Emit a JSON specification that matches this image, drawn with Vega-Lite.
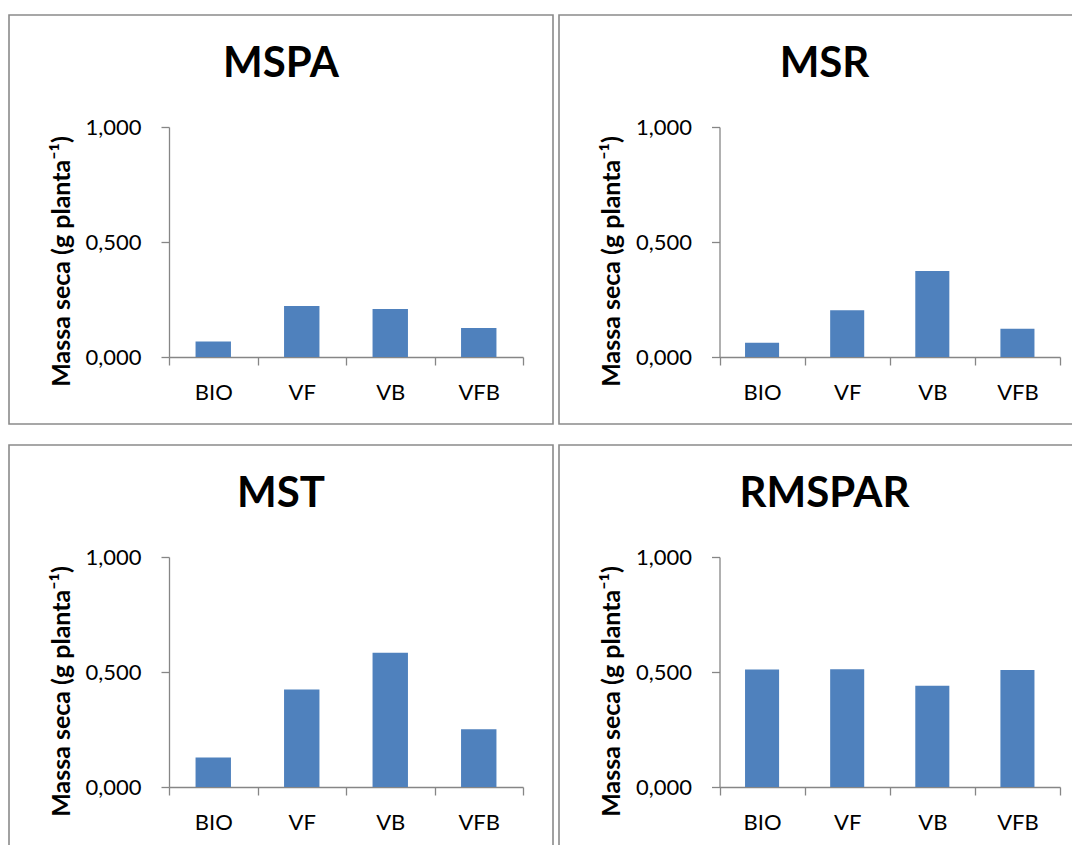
{
  "$schema": "https://vega.github.io/schema/vega-lite/v6.json",
  "padding": {"left": 8, "top": 14, "right": 0, "bottom": 0},
  "background": "#ffffff",
  "data": {
    "values": [
      {"painel": "MSPA", "trat": "BIO", "valor": 0.067},
      {"painel": "MSPA", "trat": "VF", "valor": 0.222},
      {"painel": "MSPA", "trat": "VB", "valor": 0.209},
      {"painel": "MSPA", "trat": "VFB", "valor": 0.126},
      {"painel": "MSR", "trat": "BIO", "valor": 0.062},
      {"painel": "MSR", "trat": "VF", "valor": 0.203},
      {"painel": "MSR", "trat": "VB", "valor": 0.374},
      {"painel": "MSR", "trat": "VFB", "valor": 0.123},
      {"painel": "MST", "trat": "BIO", "valor": 0.128},
      {"painel": "MST", "trat": "VF", "valor": 0.424},
      {"painel": "MST", "trat": "VB", "valor": 0.584},
      {"painel": "MST", "trat": "VFB", "valor": 0.251},
      {"painel": "RMSPAR", "trat": "BIO", "valor": 0.511},
      {"painel": "RMSPAR", "trat": "VF", "valor": 0.512},
      {"painel": "RMSPAR", "trat": "VB", "valor": 0.440},
      {"painel": "RMSPAR", "trat": "VFB", "valor": 0.509}
    ]
  },
  "config": {
    "font": "Lato",
    "view": {"stroke": "#8a8a8a", "strokeWidth": 1.6},
    "axis": {
      "domainColor": "#868686",
      "tickColor": "#868686",
      "domainWidth": 1.3,
      "tickWidth": 1.3,
      "labelColor": "#000000",
      "labelFont": "Lato",
      "labelFontSize": 22,
      "titleColor": "#000000",
      "titleFont": "Lato",
      "titleFontWeight": "bold",
      "titleFontSize": 25,
      "grid": false
    },
    "title": {"font": "Lato", "fontSize": 42, "fontWeight": "bold", "color": "#000000"}
  },
  "spacing": 19,
  "vconcat": [
    {
      "spacing": 4,
      "hconcat": [
        {
          "width": 544, "height": 409,
          "transform": [{"filter": "datum.painel === 'MSPA'"}],
          "title": {"text": "MSPA", "anchor": "middle", "frame": "group", "offset": -104, "baseline": "alphabetic"},
          "mark": {"type": "bar", "width": {"band": 0.4}, "color": "#4F81BD"},
          "encoding": {
            "x": {"field": "trat", "type": "nominal", "sort": ["BIO", "VF", "VB", "VFB"],
              "scale": {"range": [160, 514], "paddingInner": 0, "paddingOuter": 0},
              "axis": {"title": null, "offset": -67, "tickBand": "extent", "tickSize": 8, "labelPadding": 34, "labelBaseline": "alphabetic", "labelAngle": 0}},
            "y": {"field": "valor", "type": "quantitative",
              "scale": {"domain": [0, 1], "range": [342, 112], "nice": false},
              "axis": {"title": "Massa seca (g planta⁻¹)", "offset": -160, "values": [0, 0.5, 1], "tickSize": 8, "labelPadding": 20,
                "labelExpr": "replace(format(datum.value, '.3f'), '.', ',')",
                "titleX": -100, "titleY": 246, "titleAngle": 270, "titleBaseline": "alphabetic", "titleAlign": "center"}}
          }
        },
        {
          "width": 531, "height": 409,
          "transform": [{"filter": "datum.painel === 'MSR'"}],
          "title": {"text": "MSR", "anchor": "middle", "frame": "group", "offset": -104, "baseline": "alphabetic"},
          "mark": {"type": "bar", "width": {"band": 0.4}, "color": "#4F81BD"},
          "encoding": {
            "x": {"field": "trat", "type": "nominal", "sort": ["BIO", "VF", "VB", "VFB"],
              "scale": {"range": [160.5, 501], "paddingInner": 0, "paddingOuter": 0},
              "axis": {"title": null, "offset": -67, "tickBand": "extent", "tickSize": 8, "labelPadding": 34, "labelBaseline": "alphabetic", "labelAngle": 0}},
            "y": {"field": "valor", "type": "quantitative",
              "scale": {"domain": [0, 1], "range": [342, 112], "nice": false},
              "axis": {"title": "Massa seca (g planta⁻¹)", "offset": -160.5, "values": [0, 0.5, 1], "tickSize": 8, "labelPadding": 20,
                "labelExpr": "replace(format(datum.value, '.3f'), '.', ',')",
                "titleX": -100, "titleY": 246, "titleAngle": 270, "titleBaseline": "alphabetic", "titleAlign": "center"}}
          }
        }
      ]
    },
    {
      "spacing": 4,
      "hconcat": [
        {
          "width": 544, "height": 409,
          "transform": [{"filter": "datum.painel === 'MST'"}],
          "title": {"text": "MST", "anchor": "middle", "frame": "group", "offset": -104, "baseline": "alphabetic"},
          "mark": {"type": "bar", "width": {"band": 0.4}, "color": "#4F81BD"},
          "encoding": {
            "x": {"field": "trat", "type": "nominal", "sort": ["BIO", "VF", "VB", "VFB"],
              "scale": {"range": [160, 514], "paddingInner": 0, "paddingOuter": 0},
              "axis": {"title": null, "offset": -67, "tickBand": "extent", "tickSize": 8, "labelPadding": 34, "labelBaseline": "alphabetic", "labelAngle": 0}},
            "y": {"field": "valor", "type": "quantitative",
              "scale": {"domain": [0, 1], "range": [342, 112], "nice": false},
              "axis": {"title": "Massa seca (g planta⁻¹)", "offset": -160, "values": [0, 0.5, 1], "tickSize": 8, "labelPadding": 20,
                "labelExpr": "replace(format(datum.value, '.3f'), '.', ',')",
                "titleX": -100, "titleY": 246, "titleAngle": 270, "titleBaseline": "alphabetic", "titleAlign": "center"}}
          }
        },
        {
          "width": 531, "height": 409,
          "transform": [{"filter": "datum.painel === 'RMSPAR'"}],
          "title": {"text": "RMSPAR", "anchor": "middle", "frame": "group", "offset": -104, "baseline": "alphabetic"},
          "mark": {"type": "bar", "width": {"band": 0.4}, "color": "#4F81BD"},
          "encoding": {
            "x": {"field": "trat", "type": "nominal", "sort": ["BIO", "VF", "VB", "VFB"],
              "scale": {"range": [160.5, 501], "paddingInner": 0, "paddingOuter": 0},
              "axis": {"title": null, "offset": -67, "tickBand": "extent", "tickSize": 8, "labelPadding": 34, "labelBaseline": "alphabetic", "labelAngle": 0}},
            "y": {"field": "valor", "type": "quantitative",
              "scale": {"domain": [0, 1], "range": [342, 112], "nice": false},
              "axis": {"title": "Massa seca (g planta⁻¹)", "offset": -160.5, "values": [0, 0.5, 1], "tickSize": 8, "labelPadding": 20,
                "labelExpr": "replace(format(datum.value, '.3f'), '.', ',')",
                "titleX": -100, "titleY": 246, "titleAngle": 270, "titleBaseline": "alphabetic", "titleAlign": "center"}}
          }
        }
      ]
    }
  ]
}
